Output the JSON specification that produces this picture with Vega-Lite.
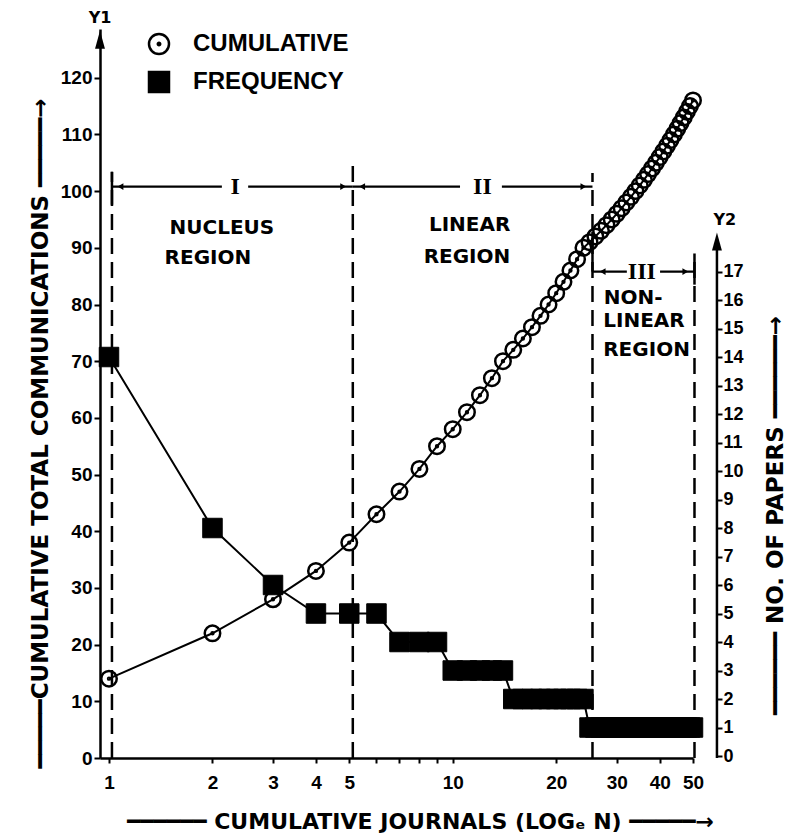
{
  "$schema": "https://vega.github.io/schema/vega-lite/v6.json",
  "width": 593,
  "height": 729,
  "autosize": {"type": "none"},
  "padding": {"left": 100, "top": 29, "right": 98, "bottom": 82},
  "background": "white",
  "config": {
    "view": {"stroke": null},
    "font": "DejaVu Sans",
    "axis": {
      "grid": false,
      "domainColor": "black",
      "domainWidth": 2.5,
      "tickColor": "black",
      "tickWidth": 2,
      "labelColor": "black",
      "titleColor": "black",
      "labelFont": "Liberation Sans",
      "labelFontWeight": "bold",
      "labelFontSize": 19,
      "titleFont": "DejaVu Sans",
      "titleFontWeight": "bold",
      "titleFontSize": 23
    }
  },
  "datasets": {
    "cumulative": [
      {"n": 1, "series": "CUMULATIVE", "value": 14},
      {"n": 2, "series": "CUMULATIVE", "value": 22},
      {"n": 3, "series": "CUMULATIVE", "value": 28},
      {"n": 4, "series": "CUMULATIVE", "value": 33},
      {"n": 5, "series": "CUMULATIVE", "value": 38},
      {"n": 6, "series": "CUMULATIVE", "value": 43},
      {"n": 7, "series": "CUMULATIVE", "value": 47},
      {"n": 8, "series": "CUMULATIVE", "value": 51},
      {"n": 9, "series": "CUMULATIVE", "value": 55},
      {"n": 10, "series": "CUMULATIVE", "value": 58},
      {"n": 11, "series": "CUMULATIVE", "value": 61},
      {"n": 12, "series": "CUMULATIVE", "value": 64},
      {"n": 13, "series": "CUMULATIVE", "value": 67},
      {"n": 14, "series": "CUMULATIVE", "value": 70},
      {"n": 15, "series": "CUMULATIVE", "value": 72},
      {"n": 16, "series": "CUMULATIVE", "value": 74},
      {"n": 17, "series": "CUMULATIVE", "value": 76},
      {"n": 18, "series": "CUMULATIVE", "value": 78},
      {"n": 19, "series": "CUMULATIVE", "value": 80},
      {"n": 20, "series": "CUMULATIVE", "value": 82},
      {"n": 21, "series": "CUMULATIVE", "value": 84},
      {"n": 22, "series": "CUMULATIVE", "value": 86},
      {"n": 23, "series": "CUMULATIVE", "value": 88},
      {"n": 24, "series": "CUMULATIVE", "value": 90},
      {"n": 25, "series": "CUMULATIVE", "value": 91},
      {"n": 26, "series": "CUMULATIVE", "value": 92},
      {"n": 27, "series": "CUMULATIVE", "value": 93},
      {"n": 28, "series": "CUMULATIVE", "value": 94},
      {"n": 29, "series": "CUMULATIVE", "value": 95},
      {"n": 30, "series": "CUMULATIVE", "value": 96},
      {"n": 31, "series": "CUMULATIVE", "value": 97},
      {"n": 32, "series": "CUMULATIVE", "value": 98},
      {"n": 33, "series": "CUMULATIVE", "value": 99},
      {"n": 34, "series": "CUMULATIVE", "value": 100},
      {"n": 35, "series": "CUMULATIVE", "value": 101},
      {"n": 36, "series": "CUMULATIVE", "value": 102},
      {"n": 37, "series": "CUMULATIVE", "value": 103},
      {"n": 38, "series": "CUMULATIVE", "value": 104},
      {"n": 39, "series": "CUMULATIVE", "value": 105},
      {"n": 40, "series": "CUMULATIVE", "value": 106},
      {"n": 41, "series": "CUMULATIVE", "value": 107},
      {"n": 42, "series": "CUMULATIVE", "value": 108},
      {"n": 43, "series": "CUMULATIVE", "value": 109},
      {"n": 44, "series": "CUMULATIVE", "value": 110},
      {"n": 45, "series": "CUMULATIVE", "value": 111},
      {"n": 46, "series": "CUMULATIVE", "value": 112},
      {"n": 47, "series": "CUMULATIVE", "value": 113},
      {"n": 48, "series": "CUMULATIVE", "value": 114},
      {"n": 49, "series": "CUMULATIVE", "value": 115},
      {"n": 50, "series": "CUMULATIVE", "value": 116}
    ],
    "frequency": [
      {"n": 1, "series": "FREQUENCY", "value": 14},
      {"n": 2, "series": "FREQUENCY", "value": 8},
      {"n": 3, "series": "FREQUENCY", "value": 6},
      {"n": 4, "series": "FREQUENCY", "value": 5},
      {"n": 5, "series": "FREQUENCY", "value": 5},
      {"n": 6, "series": "FREQUENCY", "value": 5},
      {"n": 7, "series": "FREQUENCY", "value": 4},
      {"n": 8, "series": "FREQUENCY", "value": 4},
      {"n": 9, "series": "FREQUENCY", "value": 4},
      {"n": 10, "series": "FREQUENCY", "value": 3},
      {"n": 11, "series": "FREQUENCY", "value": 3},
      {"n": 12, "series": "FREQUENCY", "value": 3},
      {"n": 13, "series": "FREQUENCY", "value": 3},
      {"n": 14, "series": "FREQUENCY", "value": 3},
      {"n": 15, "series": "FREQUENCY", "value": 2},
      {"n": 16, "series": "FREQUENCY", "value": 2},
      {"n": 17, "series": "FREQUENCY", "value": 2},
      {"n": 18, "series": "FREQUENCY", "value": 2},
      {"n": 19, "series": "FREQUENCY", "value": 2},
      {"n": 20, "series": "FREQUENCY", "value": 2},
      {"n": 21, "series": "FREQUENCY", "value": 2},
      {"n": 22, "series": "FREQUENCY", "value": 2},
      {"n": 23, "series": "FREQUENCY", "value": 2},
      {"n": 24, "series": "FREQUENCY", "value": 2},
      {"n": 25, "series": "FREQUENCY", "value": 1},
      {"n": 26, "series": "FREQUENCY", "value": 1},
      {"n": 27, "series": "FREQUENCY", "value": 1},
      {"n": 28, "series": "FREQUENCY", "value": 1},
      {"n": 29, "series": "FREQUENCY", "value": 1},
      {"n": 30, "series": "FREQUENCY", "value": 1},
      {"n": 31, "series": "FREQUENCY", "value": 1},
      {"n": 32, "series": "FREQUENCY", "value": 1},
      {"n": 33, "series": "FREQUENCY", "value": 1},
      {"n": 34, "series": "FREQUENCY", "value": 1},
      {"n": 35, "series": "FREQUENCY", "value": 1},
      {"n": 36, "series": "FREQUENCY", "value": 1},
      {"n": 37, "series": "FREQUENCY", "value": 1},
      {"n": 38, "series": "FREQUENCY", "value": 1},
      {"n": 39, "series": "FREQUENCY", "value": 1},
      {"n": 40, "series": "FREQUENCY", "value": 1},
      {"n": 41, "series": "FREQUENCY", "value": 1},
      {"n": 42, "series": "FREQUENCY", "value": 1},
      {"n": 43, "series": "FREQUENCY", "value": 1},
      {"n": 44, "series": "FREQUENCY", "value": 1},
      {"n": 45, "series": "FREQUENCY", "value": 1},
      {"n": 46, "series": "FREQUENCY", "value": 1},
      {"n": 47, "series": "FREQUENCY", "value": 1},
      {"n": 48, "series": "FREQUENCY", "value": 1},
      {"n": 49, "series": "FREQUENCY", "value": 1},
      {"n": 50, "series": "FREQUENCY", "value": 1}
    ],
    "dashes": [
      {"x": 1.02, "bottom": 0, "top": 103.4},
      {"x": 5.12, "bottom": 0, "top": 104.9},
      {"x": 25.5, "bottom": 0, "top": 103.2},
      {"x": 50.5, "bottom": 0, "top": 88.8}
    ],
    "solidticks": [
      {"x": 1.02, "bottom": 97.6, "top": 103.4},
      {"x": 25.5, "bottom": 85.8, "top": 92.8},
      {"x": 50.5, "bottom": 83.5, "top": 89},
      {"x": 58.7, "bottom": 0, "top": 90.5}
    ],
    "brackets": [
      {"x": 1.02, "x2": 2.13, "y": 100.8},
      {"x": 2.54, "x2": 5.12, "y": 100.8},
      {"x": 5.12, "x2": 10.5, "y": 100.8},
      {"x": 13.9, "x2": 25.5, "y": 100.8},
      {"x": 25.5, "x2": 32.1, "y": 85.8},
      {"x": 40.1, "x2": 50.5, "y": 85.8}
    ],
    "arrowsLeft": [
      {"x": 1.08, "y": 100.8},
      {"x": 5.45, "y": 100.8},
      {"x": 27.3, "y": 85.8}
    ],
    "arrowsRight": [
      {"x": 4.8, "y": 100.8},
      {"x": 24, "y": 100.8},
      {"x": 47.5, "y": 85.8}
    ],
    "labelsCenter": [
      {"label": "NUCLEUS", "x": 2.13, "y": 93.5},
      {"label": "REGION", "x": 1.94, "y": 88.2},
      {"label": "LINEAR", "x": 11.2, "y": 94.1},
      {"label": "REGION", "x": 11.0, "y": 88.4}
    ],
    "labelsLeft": [
      {"label": "NON-", "x": 27.5, "y": 81.2},
      {"label": "LINEAR", "x": 27.4, "y": 77.1},
      {"label": "REGION", "x": 27.4, "y": 72.0}
    ],
    "roman": [
      {"label": "I", "x": 2.33, "y": 100.8},
      {"label": "II", "x": 12.2, "y": 100.8},
      {"label": "III", "x": 35.5, "y": 85.8}
    ],
    "axisNames": [
      {"label": "Y1", "x": 0.9415, "y": 130.6},
      {"label": "Y2", "x": 61.9, "y": 94.9}
    ],
    "axisArrows": [
      {"x": 0.9415, "y": 126.7},
      {"x": 58.7, "y": 91.1}
    ]
  },
  "layer": [
    {
      "layer": [
        {
          "data": {"name": "cumulative"},
          "mark": {"type": "line", "color": "black", "strokeWidth": 2},
          "encoding": {
            "x": {
              "field": "n", "type": "quantitative",
              "scale": {"type": "log", "domain": [0.9415, 50], "nice": false},
              "axis": {
                "values": [1, 2, 3, 4, 5, 6, 7, 8, 9, 10, 20, 30, 40, 50],
                "labelExpr": "datum.value >= 6 && datum.value <= 9 ? '' : format(datum.value, 'd')",
                "tickSize": 5,
                "labelPadding": 10,
                "labelFlush": false,
                "labelOverlap": false,
                "title": "━━━━━━  CUMULATIVE  JOURNALS (LOGₑ N) ━━━━━→",
                "titleFontSize": 22,
                "titleX": 320,
                "titleY": 63,
                "titleAlign": "center",
                "titleBaseline": "middle"
              }
            },
            "y": {
              "field": "value", "type": "quantitative",
              "scale": {"domain": [0, 128.6], "nice": false, "zero": false},
              "axis": {
                "values": [0, 10, 20, 30, 40, 50, 60, 70, 80, 90, 100, 110, 120],
                "tickSize": 6,
                "labelPadding": 2,
                "title": "━━━━━CUMULATIVE  TOTAL  COMMUNICATIONS ━━━━━→",
                "titleAngle": -90,
                "titleX": -60,
                "titleY": 404,
                "titleAlign": "center",
                "titleBaseline": "middle"
              }
            }
          }
        },
        {
          "data": {"name": "dashes"},
          "mark": {"type": "rule", "color": "black", "strokeWidth": 2.5, "strokeDash": [16, 8]},
          "encoding": {
            "x": {"field": "x", "type": "quantitative"},
            "y": {"field": "bottom", "type": "quantitative"},
            "y2": {"field": "top"}
          }
        },
        {
          "data": {"name": "solidticks"},
          "mark": {"type": "rule", "color": "black", "strokeWidth": 2.5},
          "encoding": {
            "x": {"field": "x", "type": "quantitative"},
            "y": {"field": "bottom", "type": "quantitative"},
            "y2": {"field": "top"}
          }
        },
        {
          "data": {"name": "brackets"},
          "mark": {"type": "rule", "color": "black", "strokeWidth": 2.2},
          "encoding": {
            "x": {"field": "x", "type": "quantitative"},
            "x2": {"field": "x2"},
            "y": {"field": "y", "type": "quantitative"}
          }
        },
        {
          "data": {"name": "arrowsLeft"},
          "mark": {"type": "point", "shape": "triangle-left", "size": 45, "filled": true, "color": "black", "opacity": 1},
          "encoding": {
            "x": {"field": "x", "type": "quantitative"},
            "y": {"field": "y", "type": "quantitative"}
          }
        },
        {
          "data": {"name": "arrowsRight"},
          "mark": {"type": "point", "shape": "triangle-right", "size": 45, "filled": true, "color": "black", "opacity": 1},
          "encoding": {
            "x": {"field": "x", "type": "quantitative"},
            "y": {"field": "y", "type": "quantitative"}
          }
        },
        {
          "data": {"name": "labelsCenter"},
          "mark": {"type": "text", "font": "DejaVu Sans", "fontWeight": "bold", "fontSize": 20, "align": "center", "baseline": "middle", "color": "black"},
          "encoding": {
            "x": {"field": "x", "type": "quantitative"},
            "y": {"field": "y", "type": "quantitative"},
            "text": {"field": "label"}
          }
        },
        {
          "data": {"name": "labelsLeft"},
          "mark": {"type": "text", "font": "DejaVu Sans", "fontWeight": "bold", "fontSize": 20, "align": "left", "baseline": "middle", "color": "black"},
          "encoding": {
            "x": {"field": "x", "type": "quantitative"},
            "y": {"field": "y", "type": "quantitative"},
            "text": {"field": "label"}
          }
        },
        {
          "data": {"name": "roman"},
          "mark": {"type": "text", "font": "Liberation Serif", "fontWeight": "bold", "fontSize": 24, "align": "center", "baseline": "middle", "color": "black"},
          "encoding": {
            "x": {"field": "x", "type": "quantitative"},
            "y": {"field": "y", "type": "quantitative"},
            "text": {"field": "label"}
          }
        },
        {
          "data": {"name": "axisNames"},
          "mark": {"type": "text", "font": "DejaVu Sans", "fontWeight": "bold", "fontSize": 16, "align": "center", "baseline": "middle", "color": "black"},
          "encoding": {
            "x": {"field": "x", "type": "quantitative"},
            "y": {"field": "y", "type": "quantitative"},
            "text": {"field": "label"}
          }
        },
        {
          "data": {"name": "axisArrows"},
          "mark": {"type": "point", "shape": "M0,-1L0.55,1L-0.55,1Z", "size": 324, "filled": true, "color": "black", "opacity": 1},
          "encoding": {
            "x": {"field": "x", "type": "quantitative"},
            "y": {"field": "y", "type": "quantitative"}
          }
        },
        {
          "data": {"name": "cumulative"},
          "mark": {"type": "point", "size": 240, "strokeWidth": 2.5, "color": "black", "opacity": 1},
          "encoding": {
            "x": {"field": "n", "type": "quantitative"},
            "y": {"field": "value", "type": "quantitative"},
            "shape": {
              "field": "series", "type": "nominal",
              "scale": {"domain": ["CUMULATIVE", "FREQUENCY"], "range": ["M-1,0A1,1 0 1,1 1,0A1,1 0 1,1 -1,0ZM-0.12,0A0.12,0.12 0 1,1 0.12,0A0.12,0.12 0 1,1 -0.12,0Z", "square"]},
              "legend": {"title": null, "orient": "none", "legendX": 47, "legendY": 3, "symbolSize": 400, "symbolStrokeWidth": 2.5, "symbolStrokeColor": "black", "labelFont": "Liberation Sans", "labelFontWeight": "bold", "labelFontSize": 24, "labelColor": "black", "labelOffset": 22, "rowPadding": 8, "padding": 0}
            },
            "fill": {
              "field": "series", "type": "nominal",
              "scale": {"domain": ["CUMULATIVE", "FREQUENCY"], "range": ["transparent", "black"]},
              "legend": {"title": null, "orient": "none", "legendX": 47, "legendY": 3, "symbolSize": 400, "symbolStrokeWidth": 2.5, "symbolStrokeColor": "black", "labelFont": "Liberation Sans", "labelFontWeight": "bold", "labelFontSize": 24, "labelColor": "black", "labelOffset": 22, "rowPadding": 8, "padding": 0}
            },
            "stroke": {
              "field": "series", "type": "nominal",
              "scale": {"domain": ["CUMULATIVE", "FREQUENCY"], "range": ["black", "black"]},
              "legend": {"title": null, "orient": "none", "legendX": 47, "legendY": 3, "symbolSize": 400, "symbolStrokeWidth": 2.5, "symbolStrokeColor": "black", "labelFont": "Liberation Sans", "labelFontWeight": "bold", "labelFontSize": 24, "labelColor": "black", "labelOffset": 22, "rowPadding": 8, "padding": 0}
            }
          }
        }
      ]
    },
    {
      "layer": [
        {
          "data": {"name": "frequency"},
          "mark": {"type": "line", "color": "black", "strokeWidth": 2},
          "encoding": {
            "x": {"field": "n", "type": "quantitative"},
            "y": {
              "field": "value", "type": "quantitative",
              "scale": {"domain": [-0.07, 25.51], "nice": false, "zero": false},
              "axis": {
                "orient": "right",
                "offset": 24,
                "domain": false,
                "values": [0, 1, 2, 3, 4, 5, 6, 7, 8, 9, 10, 11, 12, 13, 14, 15, 16, 17],
                "tickSize": 5,
                "labelPadding": 1,
                "labelFontSize": 18,
                "title": "━━━━━━  NO.  OF  PAPERS ━━━━━━→",
                "titleAngle": -90,
                "titleX": 58,
                "titleY": 486,
                "titleAlign": "center",
                "titleBaseline": "middle"
              }
            }
          }
        },
        {
          "data": {"name": "frequency"},
          "mark": {"type": "point", "size": 380, "strokeWidth": 1, "color": "black", "opacity": 1},
          "encoding": {
            "x": {"field": "n", "type": "quantitative"},
            "y": {"field": "value", "type": "quantitative"},
            "shape": {"field": "series", "type": "nominal"},
            "fill": {"field": "series", "type": "nominal"},
            "stroke": {"field": "series", "type": "nominal"}
          }
        }
      ]
    }
  ],
  "resolve": {"scale": {"y": "independent"}, "axis": {"y": "independent"}}
}
